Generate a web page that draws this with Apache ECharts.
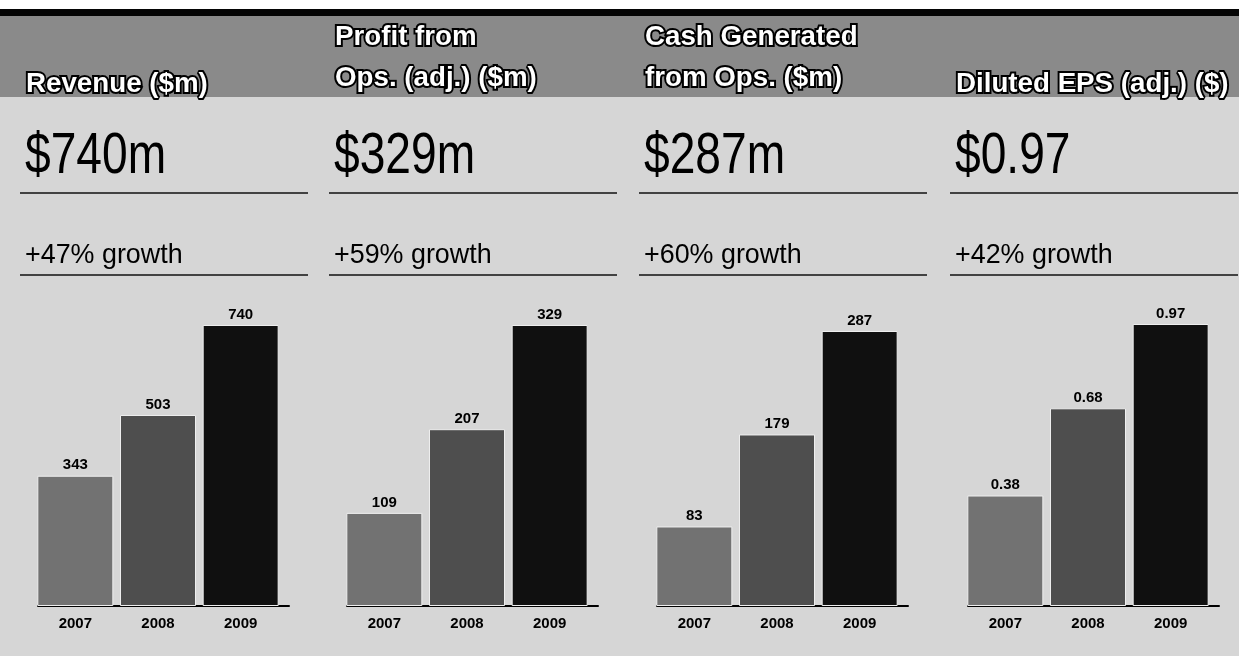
<!DOCTYPE html>
<html>
<head>
<meta charset="utf-8">
<script src="https://cdn.jsdelivr.net/npm/echarts@6/dist/echarts.min.js"></script>
<style>
html,body{margin:0;padding:0;background:#d6d6d6;}
#chart{width:1239px;height:656px;}
</style>
</head>
<body>
<div id="chart"></div>
<script>
// ---- data ----
const years = ['2007', '2008', '2009'];
const revenue = [343, 503, 740];
const profitOps = [109, 207, 329];
const cashOps = [83, 179, 287];
const dilutedEps = [0.38, 0.68, 0.97];
const seriesList = [revenue, profitOps, cashOps, dilutedEps];
const panelTitles = ['Revenue ($m)', 'Profit from\nOps. (adj.) ($m)', 'Cash Generated\nfrom Ops. ($m)', 'Diluted EPS (adj.) ($)'];
const headlines = ['$740m', '$329m', '$287m', '$0.97'];
const growthTexts = ['+47% growth', '+59% growth', '+60% growth', '+42% growth'];

// ---- layout / style ----
const W = 1239, H = 656;
const panelOffsets = [0, 309, 619, 930];
const gridTops = [325, 325, 331, 324];
const axisY = 606;
const barColors = ['#727272', '#4e4e4e', '#101010'];
const SANS = "'Liberation Sans',Arial,sans-serif";

const chart = echarts.init(document.getElementById('chart'), null, {renderer: 'canvas'});

const grids = [], xAxes = [], yAxes = [], series = [], graphics = [];

// background bands
graphics.push({type: 'rect', shape: {x: 0, y: 0, width: W, height: 9}, style: {fill: '#ffffff'}, silent: true, z: -10});
graphics.push({type: 'rect', shape: {x: 0, y: 9, width: W, height: 7}, style: {fill: '#050505'}, silent: true, z: -10});
graphics.push({type: 'rect', shape: {x: 0, y: 16, width: W, height: 81}, style: {fill: '#8a8a8a'}, silent: true, z: -10});

seriesList.forEach((vals, i) => {
  const off = panelOffsets[i];
  // header title lines
  const lines = panelTitles[i].split('\n');
  const lineCenters = lines.length === 1 ? [84.5] : [37, 78.5];
  lines.forEach((ln, k) => {
    graphics.push({
      type: 'text', silent: true, z: 10,
      x: 26 + off, y: lineCenters[k], scaleX: 0.99,
      style: {
        x: 0, y: 0, text: ln,
        font: 'bold 28px ' + SANS, fill: '#ffffff',
        stroke: '#000000', lineWidth: 4,
        align: 'left', verticalAlign: 'middle'
      }
    });
  });
  // headline (condensed)
  graphics.push({
    type: 'text', silent: true,
    x: 25 + off, y: 157.5, scaleX: 0.81,
    style: {x: 0, y: 0, text: headlines[i], font: '57px ' + SANS, fill: '#000',
      align: 'left', verticalAlign: 'middle'}
  });
  graphics.push({type: 'line', silent: true,
    shape: {x1: 20 + off, y1: 193, x2: Math.min(308 + off, W), y2: 193},
    style: {stroke: '#111', lineWidth: 1.5}});
  // growth
  graphics.push({
    type: 'text', silent: true,
    x: 25 + off, y: 255, scaleX: 0.96,
    style: {x: 0, y: 0, text: growthTexts[i], font: '28px ' + SANS, fill: '#000',
      align: 'left', verticalAlign: 'middle'}
  });
  graphics.push({type: 'line', silent: true,
    shape: {x1: 20 + off, y1: 275, x2: Math.min(308 + off, W), y2: 275},
    style: {stroke: '#111', lineWidth: 1.5}});

  // bar grid
  const gi = grids.length;
  grids.push({left: 34 + off, width: 248, top: gridTops[i], bottom: H - axisY, containLabel: false});
  xAxes.push({
    type: 'category', gridIndex: gi, data: years,
    axisLine: {show: false}, axisTick: {show: false},
    axisLabel: {margin: 10, color: '#000', fontFamily: SANS, fontWeight: 'bold', fontSize: 15}
  });
  yAxes.push({type: 'value', gridIndex: gi, min: 0, max: v => v.max, show: false, splitLine: {show: false}});
  series.push({
    type: 'bar', xAxisIndex: gi, yAxisIndex: gi,
    data: vals.map((v, k) => ({value: v, itemStyle: {color: barColors[k]}})),
    barWidth: 76,
    itemStyle: {borderColor: '#eeeeee', borderWidth: 1},
    label: {show: true, position: 'top', distance: 3, color: '#000',
      fontFamily: SANS, fontWeight: 'bold', fontSize: 15},
    silent: true, animation: false
  });
  // baseline axis grid
  const ai = grids.length;
  grids.push({left: 38 + off, width: 251, top: axisY - 1, height: 1});
  xAxes.push({type: 'value', gridIndex: ai, min: 0, max: 1,
    axisLine: {show: true, onZero: false, lineStyle: {color: '#000', width: 2}},
    axisTick: {show: false}, axisLabel: {show: false}, splitLine: {show: false}});
  yAxes.push({type: 'value', gridIndex: ai, show: false, splitLine: {show: false}});
});

chart.setOption({
  backgroundColor: '#d6d6d6',
  animation: false,
  grid: grids, xAxis: xAxes, yAxis: yAxes, series: series,
  graphic: graphics
});
</script>
</body>
</html>
